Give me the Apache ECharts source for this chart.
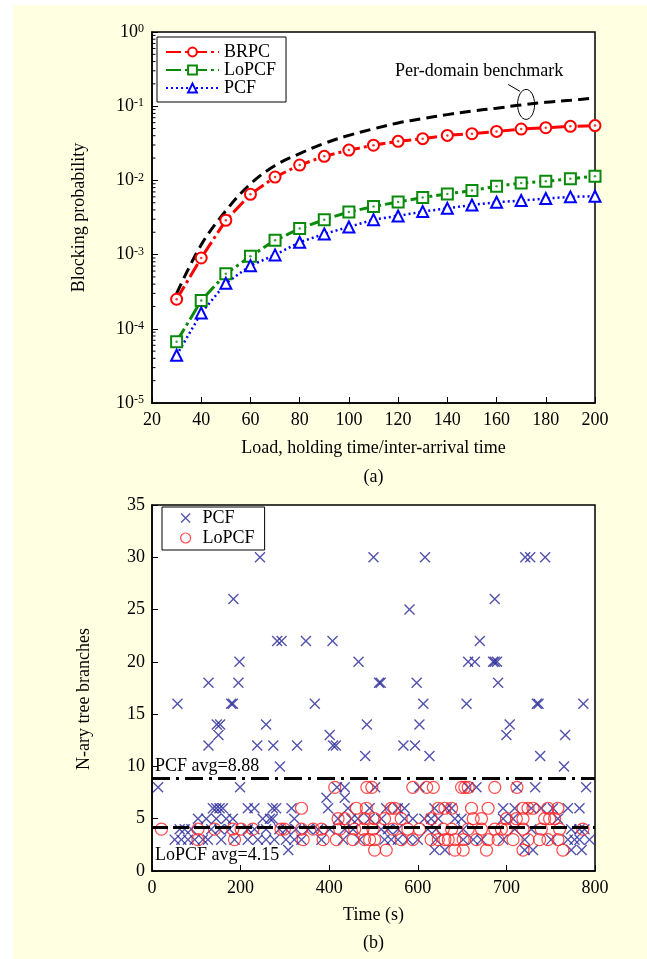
<!DOCTYPE html>
<html><head><meta charset="utf-8">
<script src="https://cdn.jsdelivr.net/npm/echarts@6/dist/echarts.min.js"></script>
<style>
html,body{margin:0;padding:0;background:#fff;}
#bg{position:absolute;left:13px;top:5px;width:634px;height:954px;background:#FFFFE1;}
#chart{position:absolute;left:0;top:0;width:647px;height:959px;}
</style>
</head><body><div id="bg"></div><div id="chart"></div>
<script>
// ---------- Panel (a) data ----------
const loads = [30,40,50,60,70,80,90,100,110,120,130,140,150,160,170,180,190,200];
const brpc = [2.5e-4,9.0e-4,2.9e-3,6.5e-3,1.11e-2,1.61e-2,2.11e-2,2.56e-2,2.98e-2,3.36e-2,3.65e-2,4.04e-2,4.26e-2,4.57e-2,4.92e-2,5.13e-2,5.35e-2,5.48e-2];
const lopcf = [6.7e-5,2.4e-4,5.5e-4,9.5e-4,1.56e-3,2.24e-3,2.96e-3,3.76e-3,4.44e-3,5.13e-3,5.87e-3,6.58e-3,7.3e-3,8.34e-3,9.25e-3,9.75e-3,1.05e-2,1.14e-2];
const pcf = [4.4e-5,1.63e-4,4.1e-4,7.1e-4,9.9e-4,1.47e-3,1.9e-3,2.36e-3,2.96e-3,3.32e-3,3.8e-3,4.2e-3,4.67e-3,5.08e-3,5.35e-3,5.69e-3,6.0e-3,6.12e-3];
const benchmark = [3.0e-4,1.36e-3,3.9e-3,9.0e-3,1.59e-2,2.3e-2,3.15e-2,4.05e-2,4.95e-2,5.95e-2,6.8e-2,7.7e-2,8.6e-2,9.4e-2,0.104,0.113,0.12,0.129];
const logExponents = [-5,-4,-3,-2,-1,0];
const minorMultipliers = [2,3,4,5,6,7,8,9];
const annotLoad = 172;

// ---------- Panel (b) data ----------
const timeTickLabels = ['0','200','400','600','700','800'];
const pcfAvg = 8.88;
const lopcfAvg = 4.15;
const pcfPoints = [
 [195,30],[400,30],[493,30],[674,30],[683,30],[710,30],
 [147,26],[619,26],[465,25],
 [226,22],[234,22],[278,22],[326,22],[592,22],
 [158,20],[373,20],[571,20],[583,20],[616,20],[619,20],[623,20],
 [102,18],[156,18],[410,18],[413,18],[478,18],[625,18],
 [46,16],[143,16],[146,16],[294,16],[490,16],[568,16],[695,16],[698,16],[779,16],
 [117,14],[123,14],[206,14],[388,14],[483,14],[646,14],
 [120,13],[321,13],[640,13],[746,13],
 [102,12],[190,12],[219,12],[262,12],[327,12],[332,12],[454,12],[475,12],
 [385,11],[501,11],[701,11],
 [231,10],[744,10],
 [11,8],[159,8],[334,8],[348,8],[403,8],[483,8],[571,8],[586,8],[659,8],[692,8],[784,8],
 [315,7],[348,7],
 [110,6],[116,6],[122,6],[128,6],[173,6],[185,6],[218,6],[224,6],[252,6],[318,6],[354,6],[393,6],[423,6],[444,6],[456,6],[510,6],[532,6],[541,6],[634,6],[655,6],[685,6],[703,6],[724,6],[751,6],[772,6],
 [83,5],[98,5],[116,5],[134,5],[146,5],[200,5],[213,5],[218,5],[257,5],[336,5],[360,5],[372,5],[393,5],[414,5],[456,5],[471,5],[492,5],[504,5],[517,5],[547,5],[559,5],[634,5],[652,5],[733,5],
 [50,4],[59,4],[71,4],[107,4],[122,4],[140,4],[173,4],[185,4],[206,4],[230,4],[242,4],[260,4],[282,4],[300,4],[321,4],[348,4],[363,4],[414,4],[426,4],[444,4],[498,4],[513,4],[562,4],[655,4],[685,4],[757,4],[772,4],[781,4],
 [41,3],[53,3],[65,3],[77,3],[92,3],[101,3],[125,3],[149,3],[173,3],[191,3],[206,3],[221,3],[242,3],[257,3],[270,3],[306,3],[345,3],[375,3],[420,3],[432,3],[444,3],[462,3],[480,3],[513,3],[562,3],[580,3],[595,3],[634,3],[673,3],[721,3],[751,3],[763,3],[772,3],[790,3],
 [246,2],[510,2],[529,2],[673,2],[688,2],[757,2],[776,2]
];
const lopcfPoints = [
 [330,8],[388,8],[397,8],[471,8],[496,8],[508,8],[559,8],[565,8],[571,8],[619,8],[659,8],
 [270,6],[369,6],[387,6],[432,6],[438,6],[517,6],[529,6],[541,6],[577,6],[607,6],[670,6],[679,6],[688,6],[715,6],[733,6],
 [336,5],[348,5],[384,5],[402,5],[420,5],[450,5],[504,5],[580,5],[595,5],[640,5],[658,5],[670,5],[709,5],[718,5],[727,5],
 [17,4],[83,4],[113,4],[146,4],[161,4],[182,4],[233,4],[239,4],[270,4],[291,4],[306,4],[339,4],[366,4],[381,4],[399,4],[435,4],[462,4],[483,4],[526,4],[541,4],[571,4],[595,4],[619,4],[631,4],[640,4],[670,4],[703,4],[736,4],[778,4],
 [83,3],[149,3],[273,3],[309,3],[333,3],[363,3],[384,3],[393,3],[402,3],[450,3],[471,3],[504,3],[517,3],[529,3],[535,3],[547,3],[562,3],[586,3],[607,3],[625,3],[652,3],[679,3],[700,3],[715,3],[733,3],
 [402,2],[423,2],[547,2],[562,2],[604,2],[670,2],[742,2]
];

// ---------- build ----------
const F = '"Liberation Serif","Times New Roman",serif';
const BLACK = '#000';
const RED = '#FF0000', GREEN = '#0A8A0A', BLUE = '#0000FF';
const XNAVY = '#28289A', CRED = '#FF1E1E';
const XPATH = 'path://M0,0.9L0.9,0L5,4.1L9.1,0L10,0.9L5.9,5L10,9.1L9.1,10L5,5.9L0.9,10L0,9.1L4.1,5Z';

const pair = (xs, ys) => xs.map((x, i) => [x, ys[i]]);
const minorVals = [];
logExponents.slice(0, -1).forEach(e => minorMultipliers.forEach(m => minorVals.push([loads[0] - 10, m * Math.pow(10, e)])));

const axisCommon = {
  axisLine: { show: true, onZero: false, lineStyle: { color: BLACK, width: 1.5 } },
  axisTick: { show: true, inside: true, length: 6, lineStyle: { color: BLACK, width: 1 } },
  splitLine: { show: false },
  nameTextStyle: { color: BLACK, fontSize: 18, fontFamily: F }
};
const labelCommon = { color: BLACK, fontSize: 18, fontFamily: F };

const chart = echarts.init(document.getElementById('chart'), null, { renderer: 'canvas' });
const option = {
  animation: false,
  backgroundColor: 'transparent',
  grid: [
    { left: 152, top: 32, width: 443, height: 371, show: true, backgroundColor: '#fff', borderColor: BLACK, borderWidth: 1.5 },
    { left: 152, top: 505, width: 443, height: 366, show: true, backgroundColor: '#fff', borderColor: BLACK, borderWidth: 1.5 }
  ],
  xAxis: [
    Object.assign({}, axisCommon, {
      gridIndex: 0, type: 'value', min: 20, max: 200, interval: 20,
      axisLabel: Object.assign({}, labelCommon, { margin: 8 }),
      name: 'Load, holding time/inter-arrival time', nameLocation: 'middle', nameGap: 36
    }),
    Object.assign({}, axisCommon, {
      gridIndex: 1, type: 'value', min: 0, max: 800, interval: 160,
      axisLabel: Object.assign({}, labelCommon, { margin: 8, formatter: v => timeTickLabels[Math.round(v / 160)] }),
      name: 'Time (s)', nameLocation: 'middle', nameGap: 35
    })
  ],
  yAxis: [
    Object.assign({}, axisCommon, {
      gridIndex: 0, type: 'log', logBase: 10, min: 1e-5, max: 1,
      axisLabel: {
        margin: 8,
        formatter: v => '{b|10}{s|' + Math.round(Math.log10(v)) + '}',
        rich: {
          b: { fontSize: 18, fontFamily: F, color: BLACK },
          s: { fontSize: 12, fontFamily: F, color: BLACK, verticalAlign: 'top' }
        }
      },
      name: 'Blocking probability', nameLocation: 'middle', nameGap: 64
    }),
    Object.assign({}, axisCommon, {
      gridIndex: 1, type: 'value', min: 0, max: 35, interval: 5,
      axisLabel: Object.assign({}, labelCommon, { margin: 7 }),
      name: 'N-ary tree branches', nameLocation: 'middle', nameGap: 59,
      nameTextStyle: { color: BLACK, fontSize: 18, fontFamily: F, padding: [0, 22, 0, 0] }
    })
  ],
  legend: [
    {
      left: 157, top: 37, orient: 'vertical', itemWidth: 53, itemHeight: 11, itemGap: 0,
      padding: [6, 10, 5, 8], backgroundColor: '#fff', borderColor: BLACK, borderWidth: 1, borderRadius: 0,
      textStyle: { color: BLACK, fontSize: 18, fontFamily: F, lineHeight: 17 },
      selectedMode: false,
      data: ['BRPC', 'LoPCF', 'PCF']
    },
    {
      left: 162, top: 507, orient: 'vertical', itemWidth: 24, itemHeight: 10, itemGap: 2,
      padding: [2, 10, 3, 18], backgroundColor: '#fff', borderColor: BLACK, borderWidth: 1, borderRadius: 0,
      textStyle: { color: BLACK, fontSize: 18, fontFamily: F, lineHeight: 17 },
      selectedMode: false,
      formatter: n => n.slice(2),
      data: [
        { name: 'b-PCF' },
        { name: 'b-LoPCF', icon: 'circle', itemStyle: { color: 'rgba(0,0,0,0)', borderColor: CRED, borderWidth: 1.2 } }
      ]
    }
  ],
  series: [
    {
      type: 'line', name: 'Per-domain benchmark', xAxisIndex: 0, yAxisIndex: 0,
      data: pair(loads, benchmark), smooth: 0.35, symbol: 'none', showSymbol: false,
      lineStyle: { color: BLACK, width: 3, type: [11, 6] }, z: 2
    },
    {
      type: 'line', name: 'BRPC', xAxisIndex: 0, yAxisIndex: 0, data: pair(loads, brpc),
      symbol: 'emptyCircle', symbolSize: 11, itemStyle: { color: RED, borderWidth: 1.3 },
      lineStyle: { color: RED, width: 3, type: [15, 4, 3, 4] }, z: 3
    },
    {
      type: 'line', name: 'LoPCF', xAxisIndex: 0, yAxisIndex: 0, data: pair(loads, lopcf),
      symbol: 'emptyRect', symbolSize: 11, itemStyle: { color: GREEN, borderWidth: 1.3 },
      lineStyle: { color: GREEN, width: 3, type: [15, 4, 3, 4] }, z: 3
    },
    {
      type: 'line', name: 'PCF', xAxisIndex: 0, yAxisIndex: 0, data: pair(loads, pcf),
      symbol: 'emptyTriangle', symbolSize: 11, itemStyle: { color: BLUE, borderWidth: 1.2 },
      lineStyle: { color: BLUE, width: 2.5, type: [2, 3] }, z: 3
    },
    {
      type: 'scatter', name: 'BRPC-dot', xAxisIndex: 0, yAxisIndex: 0, data: pair(loads, brpc),
      symbol: 'circle', symbolSize: 2.5, itemStyle: { color: RED }, z: 5, silent: true
    },
    {
      type: 'scatter', name: 'LoPCF-dot', xAxisIndex: 0, yAxisIndex: 0, data: pair(loads, lopcf),
      symbol: 'circle', symbolSize: 2.5, itemStyle: { color: GREEN }, z: 5, silent: true
    },
    {
      type: 'custom', name: 'minor-ticks', xAxisIndex: 0, yAxisIndex: 0, data: minorVals, silent: true, clip: false,
      renderItem: (params, api) => {
        const p = api.coord([20, api.value(1)]);
        return { type: 'line', shape: { x1: p[0], y1: p[1], x2: p[0] + 3.5, y2: p[1] }, style: { stroke: BLACK, lineWidth: 1 } };
      }, z: 6
    },
    {
      type: 'scatter', name: 'b-PCF', xAxisIndex: 1, yAxisIndex: 1, data: pcfPoints,
      symbol: XPATH, symbolSize: 11, itemStyle: { color: XNAVY }, z: 2
    },
    {
      type: 'scatter', name: 'b-LoPCF', xAxisIndex: 1, yAxisIndex: 1, data: lopcfPoints,
      symbol: 'circle', symbolSize: 12,
      itemStyle: { color: 'rgba(0,0,0,0)', borderColor: CRED, borderWidth: 1.2 }, z: 3,
      markLine: {
        silent: true, symbol: ['none', 'none'], animation: false,
        data: [
          { yAxis: pcfAvg, lineStyle: { color: BLACK, width: 3, type: [18, 6, 3, 6] },
            label: { show: true, position: 'insideStartTop', formatter: 'PCF avg=' + pcfAvg, color: BLACK, fontSize: 18, fontFamily: F, distance: [3, 3] } },
          { yAxis: lopcfAvg, lineStyle: { color: BLACK, width: 3, type: [16, 5] },
            label: { show: true, position: 'insideStartBottom', formatter: 'LoPCF avg=' + lopcfAvg, color: BLACK, fontSize: 18, fontFamily: F, distance: [3, 19] } }
        ]
      }
    }
  ]
};
chart.setOption(option);

// annotation anchored on the benchmark curve
function benchAt(x) {
  for (let i = 0; i < loads.length - 1; i++) {
    if (x >= loads[i] && x <= loads[i + 1]) {
      const t = (x - loads[i]) / (loads[i + 1] - loads[i]);
      return Math.pow(10, Math.log10(benchmark[i]) * (1 - t) + Math.log10(benchmark[i + 1]) * t);
    }
  }
  return benchmark[benchmark.length - 1];
}
const c = chart.convertToPixel({ xAxisIndex: 0, yAxisIndex: 0 }, [annotLoad, benchAt(annotLoad)]);
const aPos = chart.convertToPixel({ xAxisIndex: 0, yAxisIndex: 0 }, [110, 1e-5]);
const bPos = chart.convertToPixel({ xAxisIndex: 1, yAxisIndex: 1 }, [400, 0]);
chart.setOption({
  graphic: [
    { type: 'ellipse', shape: { cx: c[0], cy: c[1], rx: 8.5, ry: 15 }, style: { fill: 'none', stroke: BLACK, lineWidth: 1 }, z: 10 },
    { type: 'line', shape: { x1: c[0] - 18, y1: c[1] - 20, x2: c[0] - 6, y2: c[1] - 13 }, style: { stroke: BLACK, lineWidth: 1 }, z: 10 },
    { type: 'text', x: c[0] - 47, y: c[1] - 33, style: { text: 'Per-domain benchmark', font: '18px ' + F, fill: BLACK, align: 'center', verticalAlign: 'middle', textAlign: 'center', textVerticalAlign: 'middle' }, z: 10 },
    { type: 'text', x: aPos[0], y: aPos[1] + 74, style: { text: '(a)', font: '18px ' + F, fill: BLACK, align: 'center', verticalAlign: 'middle', textAlign: 'center', textVerticalAlign: 'middle' } },
    { type: 'text', x: bPos[0], y: bPos[1] + 72, style: { text: '(b)', font: '18px ' + F, fill: BLACK, align: 'center', verticalAlign: 'middle', textAlign: 'center', textVerticalAlign: 'middle' } }
  ]
});
</script></body></html>
